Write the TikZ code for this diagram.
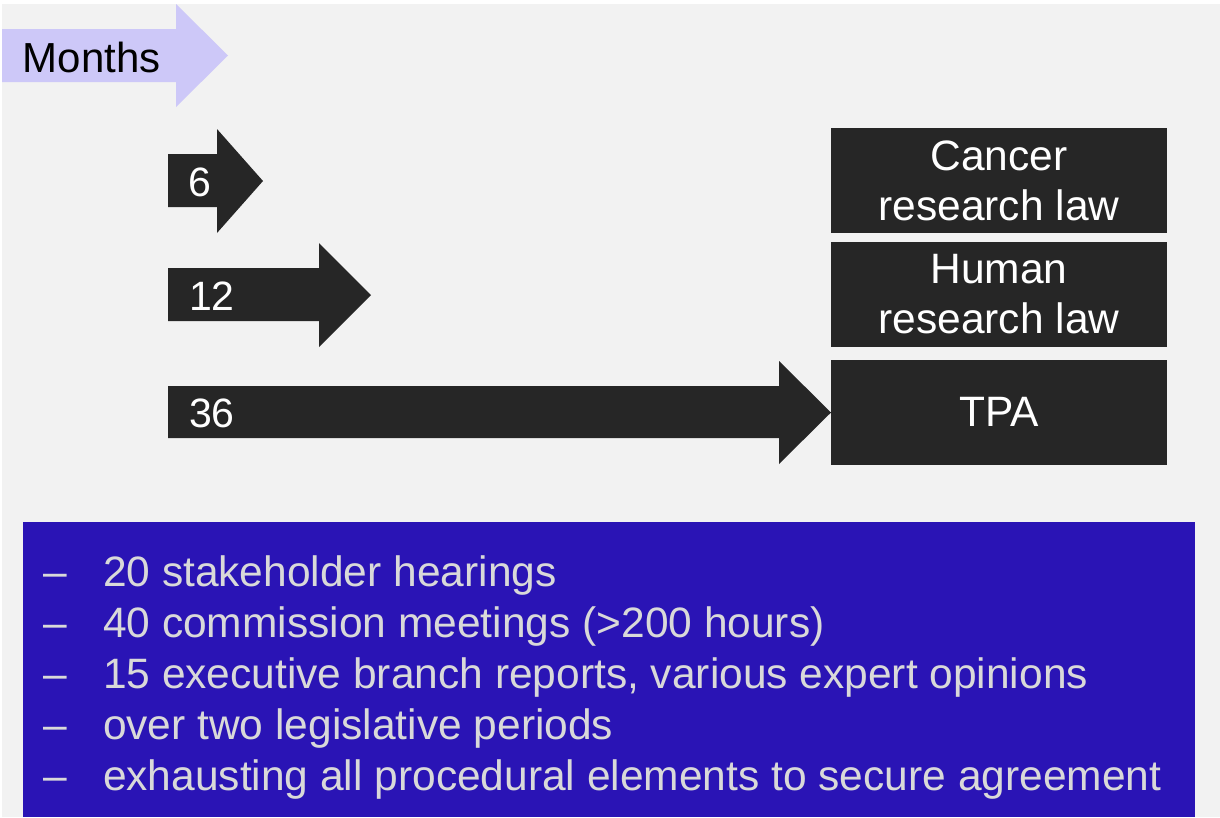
\documentclass[tikz,border=0pt]{standalone}
\usepackage{fontspec}
\setmainfont{Liberation Sans}
\definecolor{panelgrey}{HTML}{F2F2F2}
\definecolor{monthlilac}{HTML}{CDC8F8}
\definecolor{darkbar}{HTML}{262626}
\definecolor{listblue}{HTML}{2A14B5}
\definecolor{listtext}{HTML}{D9D9D9}
\tikzset{
    every node/.style={inner sep=0pt, outer sep=0pt,
    	font=\fontsize{42.5}{50}\selectfont}
}
\tikzset{
    lawbox/.style={fill=darkbar, text=white, minimum width=336pt,
    	minimum height=105pt, align=center, anchor=north west}
}
\tikzset{
    listitem/.style={text=listtext, anchor=base west}
}

\begin{document}
\begin{tikzpicture}[x=1pt, y=-1pt]
	\useasboundingbox (0,0) rectangle (1220,817);
	\fill[white] (0,0) rectangle (1220,817);
	\fill[panelgrey] (2,4) rectangle (1220,817);
	
	% months arrow
	\fill[monthlilac] (2,29) -- (176,29) -- (176,4) -- (228,55.5)
		-- (176,107) -- (176,82) -- (2,82) -- cycle;
	\node (months) [anchor=base west, font=\fontsize{42}{50}\selectfont] at (23,72) {Months};
	
	% duration arrows
	\fill[darkbar] (168,154) -- (217,154) -- (217,129) -- (263,181)
		-- (217,233) -- (217,207) -- (168,207) -- cycle;
	\fill[darkbar] (168,268) -- (319,268) -- (319,243) -- (371,295)
		-- (319,347) -- (319,321) -- (168,321) -- cycle;
	\fill[darkbar] (168,386) -- (779,386) -- (779,361) -- (831,412.5)
		-- (779,464) -- (779,438) -- (168,438) -- cycle;
	\node (m6) [anchor=base west, text=white, font=\fontsize{41}{50}\selectfont] at (188,196) {6};
	\node (m12) [anchor=base west, text=white, font=\fontsize{41}{50}\selectfont] at (189,310) {12};
	\node (m36) [anchor=base west, text=white, font=\fontsize{41}{50}\selectfont] at (189,427) {36};
	
	% laws
	\node (cancer) [lawbox] at (831,128) {Cancer\\research law};
	\node (human) [lawbox] at (831,242) {Human\\research law};
	\node (tpa) [lawbox] at (831,359.5) {TPA};
	
	% process facts
	\fill[listblue] (23,522) rectangle (1195,817);
	\node (d1) [listitem] at (43,586) {–};
	\node (d2) [listitem] at (43,637) {–};
	\node (d3) [listitem] at (43,688) {–};
	\node (d4) [listitem] at (43,739) {–};
	\node (d5) [listitem] at (43,790) {–};
	\node (i1) [listitem] at (103,586) {20 stakeholder hearings};
	\node (i2) [listitem] at (103,637) {40 commission meetings (>200 hours)};
	\node (i3) [listitem] at (103,688) {15 executive branch reports, various expert opinions};
	\node (i4) [listitem] at (103,739) {over two legislative periods};
	\node (i5) [listitem] at (103,790) {exhausting all procedural elements to secure agreement};
\end{tikzpicture}
\end{document}
